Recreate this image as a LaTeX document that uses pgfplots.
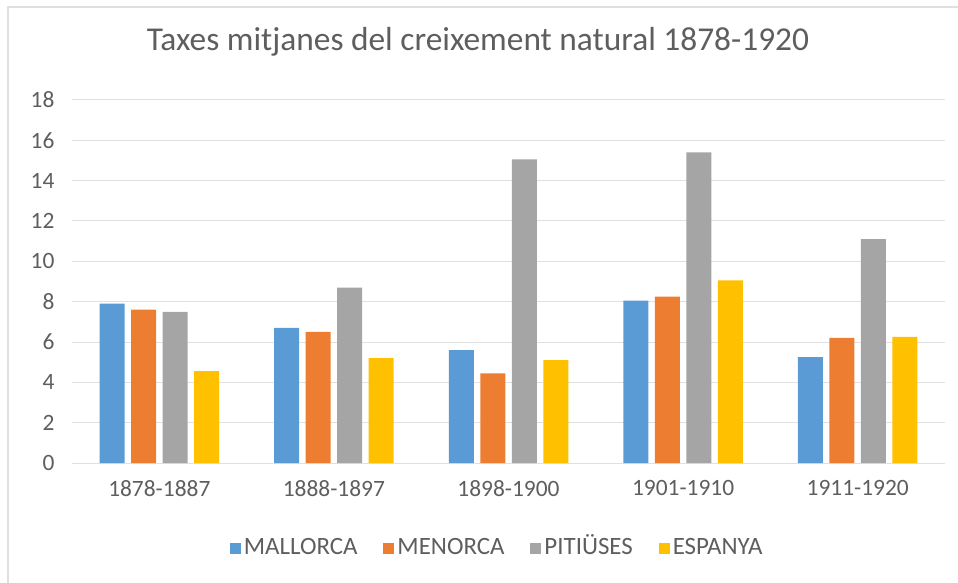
\documentclass[border=0pt]{standalone}
\usepackage{pgfplots}
\pgfplotsset{compat=1.18}
\usepackage{fontspec}
\setmainfont{Carlito}
\definecolor{cblue}{HTML}{5B9BD5}
\definecolor{corange}{HTML}{ED7D31}
\definecolor{cgray}{HTML}{A5A5A5}
\definecolor{cyellow}{HTML}{FFC000}
\definecolor{ctext}{HTML}{5E5E5E}
\definecolor{cgrid}{HTML}{E0E0E0}
\begin{document}
\begin{tikzpicture}
\path[use as bounding box] (-72bp,-120bp) rectangle (886bp,463bp);
\draw[cgrid, line width=1.5bp] (-64bp,-125bp) -- (-64bp,456bp) -- (890bp,456bp);
\begin{axis}[
  at={(0,0)}, anchor=south west,
  scale only axis, width=873bp, height=363bp,
  clip=false,
  ybar=6.5bp, bar width=25bp,
  xmin=-0.5, xmax=4.5, ymin=0, ymax=18,
  ytick={0,2,...,18},
  xtick={0,1,2,3,4},
  xticklabels={1878-1887,1888-1897,1898-1900,1901-1910,1911-1920},
  major tick length=0pt,
  axis line style={draw=none},
  ymajorgrids, grid style={cgrid, line width=1bp},
  tick label style={font=\fontsize{23.5}{28}\selectfont, text=ctext},
  /pgf/number format/assume math mode=true,
  yticklabel style={xshift=-14bp},
  xticklabel style={yshift=-14bp},
  legend columns=-1,
  legend style={draw=none, at={(axis description cs:0.487,0)}, anchor=center, yshift=-85bp,
    font=\fontsize{25}{30}\selectfont, text=ctext,
    nodes={text height=16bp, text depth=4bp},
    /tikz/every odd column/.append style={column sep=1bp},
    /tikz/every even column/.append style={column sep=24bp}},
  legend image code/.code={\fill[#1] (0bp,-5.5bp) rectangle (11bp,5.5bp);},
]
\addplot[fill=cblue, draw=none] coordinates {(0,7.9) (1,6.7) (2,5.6) (3,8.05) (4,5.25)};
\addplot[fill=corange, draw=none] coordinates {(0,7.6) (1,6.5) (2,4.45) (3,8.25) (4,6.2)};
\addplot[fill=cgray, draw=none] coordinates {(0,7.5) (1,8.7) (2,15.05) (3,15.4) (4,11.1)};
\addplot[fill=cyellow, draw=none] coordinates {(0,4.55) (1,5.2) (2,5.1) (3,9.05) (4,6.25)};
\legend{MALLORCA,MENORCA,PITIÜSES,ESPANYA}
\node[font=\fontsize{33.5}{38}\selectfont, text=ctext] at (axis description cs:0.465,1) [yshift=58bp] {Taxes mitjanes del creixement natural 1878-1920};
\end{axis}
\end{tikzpicture}
\end{document}
